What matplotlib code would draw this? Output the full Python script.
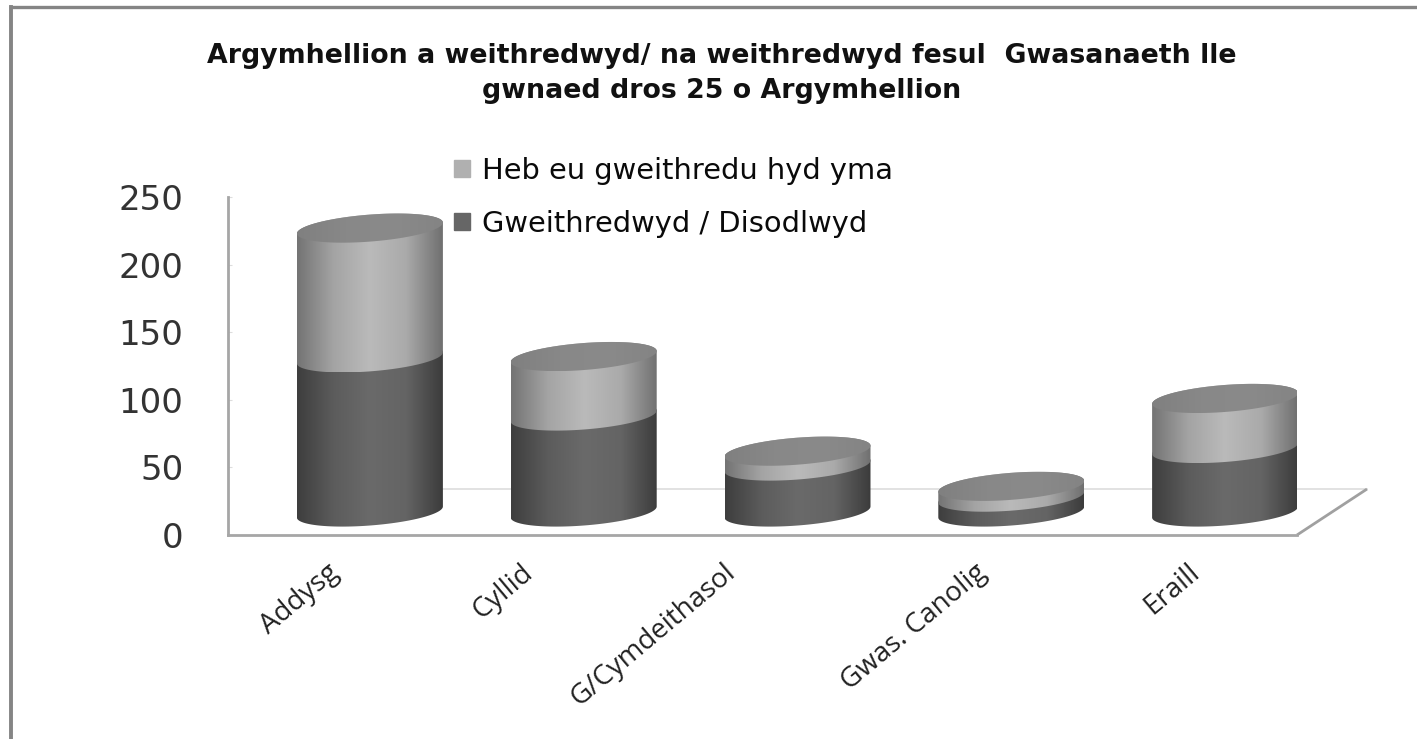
import numpy as np
import matplotlib
matplotlib.use("Agg")
import matplotlib.pyplot as plt
from matplotlib.colors import LinearSegmentedColormap
from matplotlib.lines import Line2D
from matplotlib.patches import Patch, Polygon
from matplotlib.transforms import Affine2D

titulo = "Argymhellion a weithredwyd/ na weithredwyd fesul  Gwasanaeth lle\ngwnaed dros 25 o Argymhellion"
categorias = ["Addysg", "Cyllid", "G/Cymdeithasol", "Gwas. Canolig", "Eraill"]
gweithredwyd = [114, 71, 34, 11, 47]
heb_eu = [96, 44, 11, 8, 37]
nombre_gweithredwyd = "Gweithredwyd / Disodlwyd"
nombre_heb_eu = "Heb eu gweithredu hyd yma"
ticks_y = [0, 50, 100, 150, 200, 250]

W, H = 1417, 739
# escala del eje en pixeles
PX_X = 1069 / 5
PX_Y = 338 / 250
FONDO_X = 70 / PX_X
FONDO_Y = 34
RADIO = 73 / PX_X
B = 13.5 / PX_Y
K = 5.5 / PX_Y
# corrimiento de cada etiqueta del eje x, en pixeles
desplaza_x = [-8, -28, -40, -2, -3]

grad_oscuro = LinearSegmentedColormap.from_list("o", ["#3e3e3e", "#5c5c5c", "#6a6a6a", "#646464", "#3c3c3c"])
grad_claro = LinearSegmentedColormap.from_list("c", ["#747474", "#a4a4a4", "#bababa", "#aaaaaa", "#707070"])
grad_tapa = LinearSegmentedColormap.from_list("t", ["#808080", "#888888", "#8a8a8a", "#848484"])


def pintar(ax, pts, cmap, z):
	# rellena un poligono con degradado horizontal
	x0, x1 = pts[:, 0].min(), pts[:, 0].max()
	y0, y1 = pts[:, 1].min(), pts[:, 1].max()
	g = np.linspace(0, 1, 200).reshape(1, -1)
	im = ax.imshow(g, cmap=cmap, vmin=0, vmax=1, extent=[x0, x1, y0, y1], aspect="auto", zorder=z, interpolation="bilinear")
	p = Polygon(pts, closed=True, facecolor="none", edgecolor="none", transform=ax.transData)
	ax.add_patch(p)
	im.set_clip_path(p)


def elipse(cx, cy, t):
	return np.column_stack([cx + RADIO * np.cos(t), cy + B * np.sin(t) + K * np.cos(t)])


def cilindro(ax, x, v1, v2, z):
	cx = x + FONDO_X / 2
	base = FONDO_Y / 2
	frente = np.linspace(np.pi, 2 * np.pi, 80)
	atras = np.linspace(0, np.pi, 80)
	tramo1 = np.vstack([elipse(cx, base, frente), elipse(cx, base + v1, atras)])
	pintar(ax, tramo1, grad_oscuro, z)
	tramo2 = np.vstack([elipse(cx, base + v1, frente), elipse(cx, base + v1 + v2, atras)])
	pintar(ax, tramo2, grad_claro, z + 0.1)
	tapa = elipse(cx, base + v1 + v2, np.linspace(0, 2 * np.pi, 160))
	pintar(ax, tapa, grad_tapa, z + 0.2)


fig = plt.figure(figsize=(W / 100, H / 100), dpi=100, facecolor="white")
ax = fig.add_axes([228 / W, 1 - 535 / H, 1069 / W, 338 / H])
ax.set_facecolor("none")

for i in range(len(categorias)):
	cilindro(ax, i, gweithredwyd[i], heb_eu[i], 3 + i)

ax.set_xlim(-0.5, 4.5)
ax.set_ylim(0, 250)

# pared del fondo y piso
ax.plot([-0.5 + FONDO_X, 4.5 + FONDO_X], [FONDO_Y, FONDO_Y], color="#dddddd", lw=1.2, zorder=1, clip_on=False)
ax.plot([4.5, 4.5 + FONDO_X], [0, FONDO_Y], color="#a0a0a0", lw=2, zorder=1, clip_on=False, solid_capstyle="butt")

for s in ["top", "right"]:
	ax.spines[s].set_visible(False)
for s in ["left", "bottom"]:
	ax.spines[s].set_color("#a6a6a6")
	ax.spines[s].set_linewidth(2)

ax.set_yticks(ticks_y)
ax.tick_params(axis="y", direction="in", length=3, color="#dddddd", pad=32, labelsize=24.5, labelcolor="#333333")
ax.set_xticks(range(len(categorias)))
ax.tick_params(axis="x", length=0, pad=17)
ax.set_xticklabels(categorias, rotation=40, ha="right", rotation_mode="anchor", family="Open Sans", fontsize=20, color="#222222")
for lbl, dx in zip(ax.get_xticklabels(), desplaza_x):
	lbl.set_transform(lbl.get_transform() + Affine2D().translate(dx, 0))

fig.text(722 / W, 1 - 73.5 / H, titulo, ha="center", va="center", family="DejaVu Sans", weight="bold", fontsize=19.3, color="#111111", linespacing=1.42)

leg = ax.legend(
	handles=[Patch(color="#b0b0b0", label=nombre_heb_eu), Patch(color="#666666", label=nombre_gweithredwyd)],
	loc="upper left", bbox_to_anchor=(428 / W, 1 - 131 / H), bbox_transform=fig.transFigure,
	frameon=False, fontsize=20.8, labelspacing=0.85, handlelength=0.55, handleheight=0.55, handletextpad=0.41,
)
for t in leg.get_texts():
	t.set_color("#0a0a0a")
leg.set_zorder(20)

# marco de la imagen
fig.add_artist(Line2D([11 / W, 1], [1 - 6.5 / H, 1 - 6.5 / H], color="#858585", lw=2.4, transform=fig.transFigure))
fig.add_artist(Line2D([11 / W, 11 / W], [0, 1 - 6.5 / H], color="#858585", lw=2.8, transform=fig.transFigure))

fig.savefig("out.png", dpi=100)
